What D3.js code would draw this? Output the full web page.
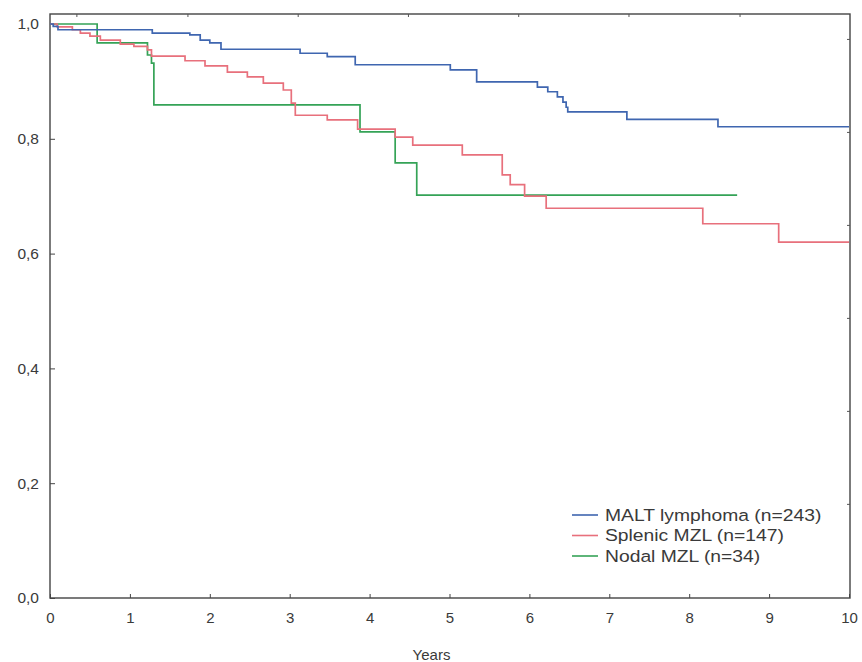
<!DOCTYPE html>
<html>
<head>
<meta charset="utf-8">
<script src="https://cdn.jsdelivr.net/npm/d3@7"></script>
<style>
  html, body { margin: 0; padding: 0; background: #fff; }
  svg text { font-family: "Liberation Sans", Arial, sans-serif; fill: #3a3a3a; }
</style>
</head>
<body>
<div id="chart"></div>
<script>
// Kaplan-Meier curves, three MZL subtypes — step functions

const seriesNames = ["MALT lymphoma (n=243)", "Splenic MZL (n=147)", "Nodal MZL (n=34)"];
const seriesColors = ["#3f66b0", "#e8707c", "#35a357"];

// event times (years) and survival after each step
const maltTimes = [0, 0.04, 0.10, 1.28, 1.75, 1.88, 2.00, 2.14, 3.13, 3.47, 3.82, 5.01, 5.34, 6.10, 6.23, 6.35, 6.42, 6.46, 6.48, 7.22, 8.36, 10];
const maltSurv  = [1.0, 0.996, 0.990, 0.984, 0.981, 0.972, 0.967, 0.956, 0.949, 0.943, 0.929, 0.920, 0.899, 0.890, 0.882, 0.873, 0.864, 0.855, 0.847, 0.834, 0.821, 0.821];

const splenicTimes = [0, 0.09, 0.28, 0.38, 0.50, 0.63, 0.88, 1.05, 1.22, 1.27, 1.69, 1.94, 2.22, 2.47, 2.67, 2.92, 3.02, 3.07, 3.47, 3.85, 4.32, 4.54, 5.16, 5.66, 5.76, 5.94, 6.21, 8.17, 9.12, 10];
const splenicSurv  = [1.0, 0.995, 0.990, 0.984, 0.979, 0.972, 0.965, 0.961, 0.955, 0.944, 0.936, 0.927, 0.916, 0.908, 0.897, 0.885, 0.862, 0.841, 0.833, 0.817, 0.803, 0.789, 0.772, 0.737, 0.720, 0.700, 0.679, 0.652, 0.620, 0.620];

const nodalTimes = [0, 0.59, 1.22, 1.27, 1.30, 3.88, 4.32, 4.59, 8.60];
const nodalSurv  = [1.0, 0.967, 0.946, 0.932, 0.859, 0.812, 0.758, 0.702, 0.702];

const xTicks = [0, 1, 2, 3, 4, 5, 6, 7, 8, 9, 10];
const yTicks = [0, 0.2, 0.4, 0.6, 0.8, 1.0];
// stray mirror ticks on the top and right edges of the scanned frame
const topTicks = [0.33, 1.72, 3.10, 4.48, 5.86, 7.24, 8.63];
const rightTicks = [0.974, 0.812, 0.650, 0.488, 0.326, 0.164];

const W = 862, H = 662;
const plotL = 50, plotR = 850, plotT = 14, plotB = 598;

const svg = d3.select("#chart").append("svg")
  .attr("width", W)
  .attr("height", H);

const x = d3.scaleLinear().domain([0, 10]).range([plotL, plotL + 799]);
const y = d3.scaleLinear().domain([0, 1]).range([plotB, plotB - 574]);

// ── Frame ──
svg.append("rect")
  .attr("x", plotL).attr("y", plotT)
  .attr("width", plotR - plotL).attr("height", plotB - plotT)
  .attr("fill", "none")
  .attr("stroke", "#444")
  .attr("stroke-width", 1.4);

// ── Axes (ticks point inwards) ──
const xAxis = svg.append("g")
  .attr("transform", `translate(0,${plotB})`)
  .call(d3.axisBottom(x).tickValues(xTicks).tickSizeInner(-4).tickSizeOuter(0)
    .tickFormat(d3.format("d")));
xAxis.select(".domain").remove();
xAxis.selectAll("line").attr("stroke", "#444");
xAxis.selectAll("text")
  .attr("y", 20)
  .attr("dy", "0.35em")
  .style("font-size", "15px");

const yAxis = svg.append("g")
  .attr("transform", `translate(${plotL},0)`)
  .call(d3.axisLeft(y).tickValues(yTicks).tickSizeInner(-5).tickSizeOuter(0)
    .tickFormat(d => d3.format(".1f")(d).replace(".", ",")));
yAxis.select(".domain").remove();
yAxis.selectAll("line").attr("stroke", "#444");
yAxis.selectAll("text")
  .attr("x", -11)
  .style("font-size", "15.5px");

svg.append("g")
  .attr("transform", `translate(0,${plotT})`)
  .call(d3.axisTop(x).tickValues(topTicks).tickSizeInner(-3).tickSizeOuter(0).tickFormat(""))
  .call(g => g.select(".domain").remove())
  .selectAll("line").attr("stroke", "#555");

svg.append("g")
  .attr("transform", `translate(${plotR},0)`)
  .call(d3.axisRight(y).tickValues(rightTicks).tickSizeInner(-3).tickSizeOuter(0).tickFormat(""))
  .call(g => g.select(".domain").remove())
  .selectAll("line").attr("stroke", "#555");

svg.append("text")
  .attr("x", x(5) - 18)
  .attr("y", 655)
  .attr("dy", "0.35em")
  .attr("text-anchor", "middle")
  .style("font-size", "15px")
  .text("Years");

// ── Curves ──
const series = [
  { times: maltTimes, surv: maltSurv },
  { times: splenicTimes, surv: splenicSurv },
  { times: nodalTimes, surv: nodalSurv },
];

const line = d3.line()
  .x(d => x(d[0]))
  .y(d => y(d[1]))
  .curve(d3.curveStepAfter);

// draw green first, then red, then blue on top
[2, 1, 0].forEach(i => {
  const s = series[i];
  svg.append("path")
    .datum(d3.zip(s.times, s.surv))
    .attr("fill", "none")
    .attr("stroke", seriesColors[i])
    .attr("stroke-width", 1.7)
    .attr("d", line);
});

// ── Legend ──
// the scanned legend text is noticeably wide, so stretch it horizontally
const legend = svg.append("g").attr("transform", "translate(572,515)");
seriesNames.forEach((name, i) => {
  const row = legend.append("g").attr("transform", `translate(0,${i * 20.5})`);
  row.append("line")
    .attr("x1", 0).attr("x2", 26)
    .attr("stroke", seriesColors[i])
    .attr("stroke-width", 1.6);
  row.append("text")
    .attr("transform", "translate(33,0) scale(1.17,1)")
    .attr("dy", "0.35em")
    .style("font-size", "16.5px")
    .text(name);
});
</script>
</body>
</html>
